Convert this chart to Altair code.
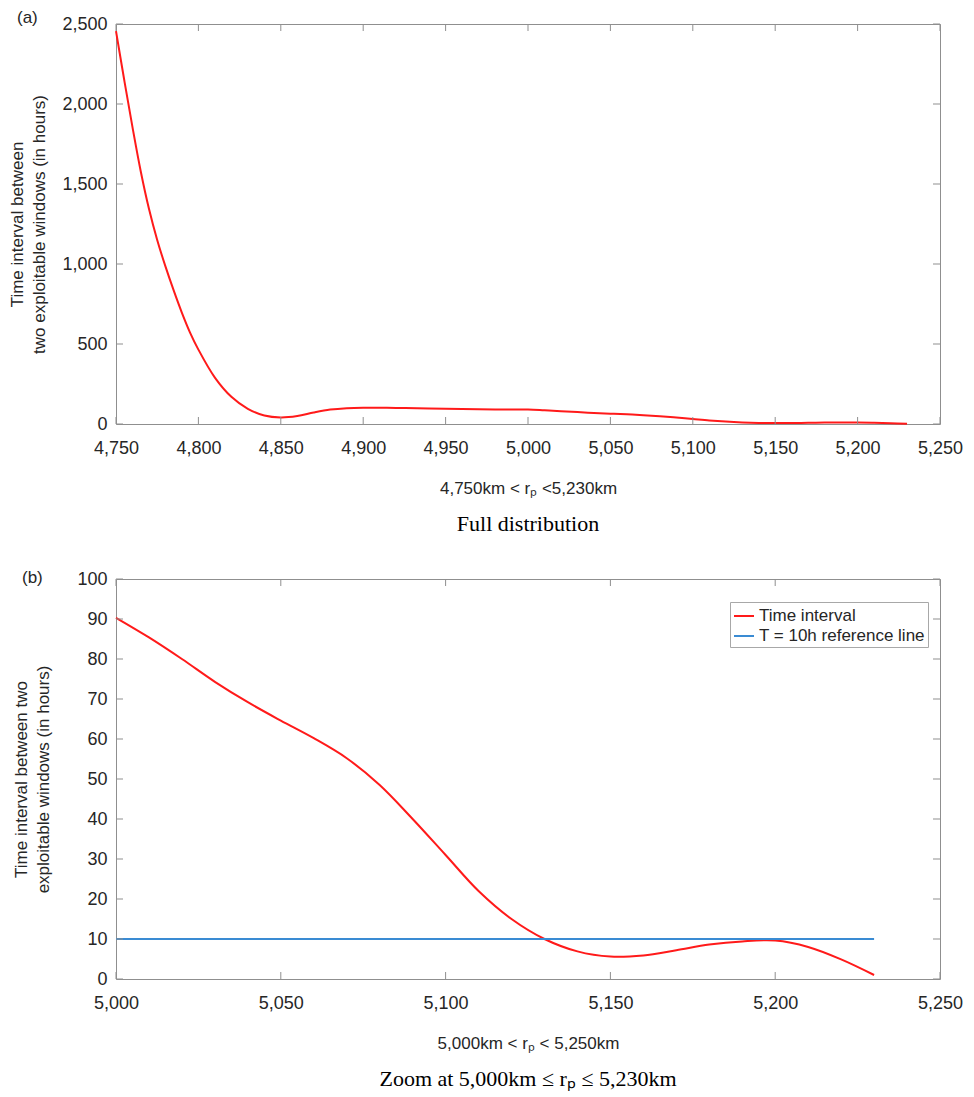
import altair as alt
import pandas as pd

# ---------------- data ----------------
rp_full = [4750, 4755, 4760, 4765, 4770, 4775, 4780, 4785, 4790, 4795, 4800,
           4810, 4820, 4830, 4840, 4850, 4860, 4870, 4880, 4890, 4900,
           4920, 4940, 4960, 4980,
           5000, 5010, 5020, 5030, 5040, 5050, 5060, 5070, 5080, 5090, 5100,
           5110, 5120, 5130, 5140, 5150, 5160, 5170, 5180, 5190, 5200,
           5210, 5220, 5230]
t_full = [2455, 2150, 1855, 1580, 1345, 1150, 985, 835, 695, 570, 465,
          290, 170, 95, 53, 41, 50, 72, 90, 99, 102,
          100, 97, 94, 91,
          90.3, 85.4, 80.0, 74.3, 69.2, 64.6, 60.2, 55.2, 48.5, 40.0, 31.0,
          22.0, 15.0, 10.0, 6.9, 5.6, 5.9, 7.2, 8.6, 9.4, 9.6,
          8.0, 4.9, 1.0]

rp_zoom = [5000, 5010, 5020, 5030, 5040, 5050, 5060, 5070, 5080, 5090, 5100,
           5110, 5120, 5130, 5140, 5150, 5160, 5170, 5180, 5190, 5200,
           5210, 5220, 5230]
t_zoom = [90.3, 85.4, 80.0, 74.3, 69.2, 64.6, 60.2, 55.2, 48.5, 40.0, 31.0,
          22.0, 15.0, 10.0, 6.9, 5.6, 5.9, 7.2, 8.6, 9.4, 9.6,
          8.0, 4.9, 1.0]

ref_rp = [5000, 5230]
ref_t = [10, 10]

series_names = ["Time interval", "T = 10h reference line"]

xticks_a = [4750, 4800, 4850, 4900, 4950, 5000, 5050, 5100, 5150, 5200, 5250]
yticks_a = [0, 500, 1000, 1500, 2000, 2500]
xticks_b = [5000, 5050, 5100, 5150, 5200, 5250]
yticks_b = [0, 10, 20, 30, 40, 50, 60, 70, 80, 90, 100]

# ---------------- styling ----------------
W, H = 824, 400
GREY = "#8f8f8f"
TXT = "#262626"
RED = "#ff1a1a"
BLUE = "#3a8bd3"
TICK = 7
SANS = "Liberation Sans"
SERIF = "Liberation Serif"
INTERP = "catmull-rom"


def inner_ticks(xticks, yticks, xscale, yscale, xaxis, yaxis):
    dx = pd.DataFrame({"rp": xticks})
    dy = pd.DataFrame({"t": yticks})
    bx = alt.Chart(dx).mark_rule(color=GREY, strokeWidth=1)
    by = alt.Chart(dy).mark_rule(color=GREY, strokeWidth=1)
    X = alt.X("rp:Q", scale=xscale, axis=xaxis)
    Y = alt.Y("t:Q", scale=yscale, axis=yaxis)
    return [
        bx.encode(x=X, y=alt.value(H), y2=alt.value(H - TICK)),
        bx.encode(x=X, y=alt.value(0), y2=alt.value(TICK)),
        by.encode(y=Y, x=alt.value(0), x2=alt.value(TICK)),
        by.encode(y=Y, x=alt.value(W), x2=alt.value(W - TICK)),
    ]


def panel_label(txt, x, y):
    return alt.Chart(pd.DataFrame({"lab": [txt]})).mark_text(
        align="left", baseline="alphabetic", font=SANS, fontSize=17, color=TXT
    ).encode(text="lab:N", x=alt.value(x), y=alt.value(y))


# ---------------- panel (a) ----------------
xs_a = alt.Scale(domain=[4750, 5250], nice=False, zero=False)
ys_a = alt.Scale(domain=[0, 2500], nice=False)
xax_a = alt.Axis(values=xticks_a, format=",d", title="4,750km < rₚ <5,230km",
                 labelPadding=15, titlePadding=23, labelFlush=False)
yax_a = alt.Axis(values=yticks_a, format=",d",
                 title=["Time interval between", "two exploitable windows (in hours)"],
                 labelPadding=9, titlePadding=13)

df_a = pd.DataFrame({"rp": rp_full, "t": t_full})
line_a = alt.Chart(df_a).mark_line(color=RED, strokeWidth=2, interpolate=INTERP).encode(
    x=alt.X("rp:Q", scale=xs_a, axis=xax_a),
    y=alt.Y("t:Q", scale=ys_a, axis=yax_a),
)

panel_a = alt.layer(
    line_a,
    *inner_ticks(xticks_a, yticks_a, xs_a, ys_a, xax_a, yax_a),
    panel_label("(a)", -99, -1),
).properties(
    width=W, height=H,
    title=alt.TitleParams("Full distribution", orient="bottom", anchor="middle", frame="group",
                          font=SERIF, fontSize=22, fontWeight="normal", color="black", offset=18),
)

# ---------------- panel (b) ----------------
xs_b = alt.Scale(domain=[5000, 5250], nice=False, zero=False)
ys_b = alt.Scale(domain=[0, 100], nice=False)
xax_b = alt.Axis(values=xticks_b, format=",d", title="5,000km < rₚ < 5,250km",
                 labelPadding=15, titlePadding=23, labelFlush=False)
yax_b = alt.Axis(values=yticks_b, format="d",
                 title=["Time interval between two", "exploitable windows (in hours)"],
                 labelPadding=9, titlePadding=24)

df_b = pd.concat([
    pd.DataFrame({"rp": rp_zoom, "t": t_zoom, "series": series_names[0]}),
    pd.DataFrame({"rp": ref_rp, "t": ref_t, "series": series_names[1]}),
])
line_b = alt.Chart(df_b).mark_line(strokeWidth=2, interpolate=INTERP).encode(
    x=alt.X("rp:Q", scale=xs_b, axis=xax_b),
    y=alt.Y("t:Q", scale=ys_b, axis=yax_b),
    color=alt.Color("series:N",
                    scale=alt.Scale(domain=series_names, range=[RED, BLUE]),
                    legend=alt.Legend(title=None, orient="none", legendX=614, legendY=578,
                                      symbolType="stroke", symbolSize=400, symbolStrokeWidth=2,
                                      labelFont=SANS, labelFontSize=17, labelColor=TXT,
                                      labelLimit=400, labelOffset=4, rowPadding=1, padding=3,
                                      strokeColor="#a8a8a8", fillColor="white")),
    detail="series:N",
)

panel_b = alt.layer(
    line_b,
    *inner_ticks(xticks_b, yticks_b, xs_b, ys_b, xax_b, yax_b),
    panel_label("(b)", -94, 4),
).properties(
    width=W, height=H,
    title=alt.TitleParams("Zoom at 5,000km ≤ rₚ ≤ 5,230km", orient="bottom", anchor="middle",
                          frame="group", font=SERIF, fontSize=22, fontWeight="normal",
                          color="black", offset=18),
)

chart = alt.vconcat(panel_a, panel_b, spacing=32).properties(
    padding=0
).configure(
    background="white"
).configure_view(
    stroke=GREY, strokeWidth=1
).configure_axis(
    labelFont=SANS, labelFontSize=18, labelColor=TXT,
    titleFont=SANS, titleFontSize=17, titleColor=TXT, titleFontWeight="normal",
    titleLineHeight=22,
    domain=False, ticks=False, grid=False,
)

chart.save("out.html", embed_options={"renderer": "svg", "actions": False})
